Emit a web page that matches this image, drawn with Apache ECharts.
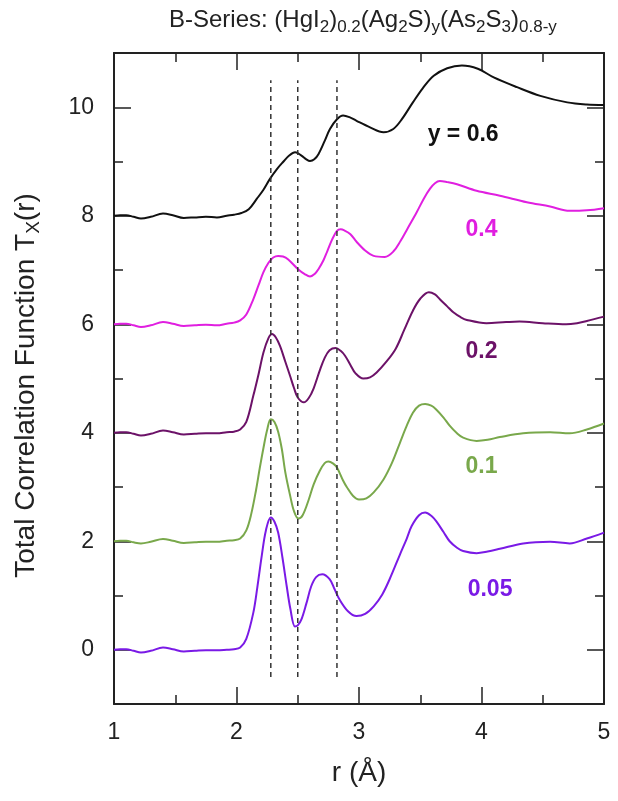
<!DOCTYPE html>
<html>
<head>
<meta charset="utf-8">
<script src="https://cdn.jsdelivr.net/npm/echarts@6/dist/echarts.min.js"></script>
<style>
html,body{margin:0;padding:0;background:#fff;}
#chart{width:618px;height:801px;}
</style>
</head>
<body>
<div id="chart"></div>
<script>
// ---- data (r in Å, plotted value incl. vertical offset) ----
const seriesNames = ['y = 0.6', '0.4', '0.2', '0.1', '0.05'];
const seriesColors = ['#111111', '#e01fe0', '#6c1268', '#79a84b', '#7a1ae6'];

const y060 = [[1.00,8.00],[1.05,8.01],[1.10,8.01],[1.16,7.98],[1.22,7.95],[1.30,7.98],[1.40,8.04],[1.48,8.01],[1.57,7.96],[1.66,7.97],[1.75,7.98],[1.84,7.97],[1.92,8.00],[1.98,8.02],[2.04,8.05],[2.10,8.12],[2.165,8.31],[2.22,8.48],[2.273,8.68],[2.33,8.86],[2.38,8.99],[2.43,9.11],[2.478,9.17],[2.53,9.11],[2.57,9.04],[2.60,9.01],[2.635,9.04],[2.67,9.14],[2.72,9.38],[2.763,9.60],[2.82,9.78],[2.87,9.85],[2.93,9.81],[2.98,9.75],[3.09,9.63],[3.20,9.54],[3.28,9.60],[3.35,9.78],[3.44,10.09],[3.52,10.35],[3.61,10.58],[3.72,10.72],[3.84,10.77],[3.97,10.71],[4.10,10.55],[4.29,10.37],[4.48,10.21],[4.70,10.09],[4.86,10.05],[5.00,10.04]];

const y040 = [[1.00,6.00],[1.05,6.01],[1.10,6.01],[1.16,5.98],[1.22,5.95],[1.30,5.98],[1.40,6.04],[1.48,6.01],[1.57,5.97],[1.66,5.98],[1.75,5.99],[1.84,5.98],[1.92,6.01],[1.98,6.03],[2.03,6.07],[2.08,6.18],[2.137,6.46],[2.18,6.72],[2.22,6.96],[2.26,7.13],[2.30,7.23],[2.34,7.26],[2.38,7.25],[2.42,7.20],[2.50,7.02],[2.56,6.92],[2.60,6.88],[2.64,6.93],[2.67,7.02],[2.71,7.18],[2.74,7.34],[2.78,7.56],[2.82,7.72],[2.85,7.75],[2.88,7.73],[2.93,7.66],[2.98,7.52],[3.05,7.36],[3.12,7.26],[3.21,7.24],[3.28,7.34],[3.34,7.54],[3.40,7.78],[3.47,8.06],[3.53,8.32],[3.58,8.50],[3.62,8.60],[3.66,8.64],[3.72,8.62],[3.80,8.58],[3.96,8.46],[4.15,8.37],[4.37,8.25],[4.56,8.17],[4.72,8.09],[4.86,8.10],[5.00,8.14]];

const y020 = [[1.00,4.00],[1.05,4.01],[1.10,4.01],[1.16,3.98],[1.22,3.95],[1.30,3.98],[1.40,4.04],[1.48,4.01],[1.57,3.97],[1.66,3.98],[1.75,3.99],[1.84,3.99],[1.92,4.01],[1.98,4.02],[2.03,4.06],[2.08,4.20],[2.137,4.68],[2.18,5.08],[2.22,5.48],[2.26,5.74],[2.29,5.82],[2.32,5.76],[2.355,5.60],[2.40,5.30],[2.437,5.05],[2.47,4.82],[2.50,4.65],[2.55,4.56],[2.59,4.64],[2.63,4.82],[2.68,5.15],[2.72,5.38],[2.76,5.52],[2.81,5.56],[2.85,5.51],[2.886,5.42],[2.93,5.25],[2.97,5.10],[3.035,5.00],[3.09,5.02],[3.144,5.11],[3.22,5.30],[3.30,5.55],[3.37,5.90],[3.44,6.25],[3.50,6.47],[3.57,6.59],[3.62,6.55],[3.66,6.46],[3.72,6.33],[3.77,6.22],[3.83,6.13],[3.88,6.08],[4.04,6.02],[4.20,6.04],[4.31,6.05],[4.50,6.02],[4.69,6.00],[4.78,6.02],[4.86,6.06],[5.00,6.14]];

const y010 = [[1.00,2.00],[1.05,2.01],[1.10,2.01],[1.16,1.98],[1.22,1.96],[1.30,1.99],[1.40,2.04],[1.48,2.01],[1.57,1.97],[1.66,1.98],[1.75,1.99],[1.84,1.99],[1.92,2.01],[1.98,2.02],[2.03,2.05],[2.08,2.20],[2.12,2.50],[2.16,2.95],[2.19,3.35],[2.22,3.72],[2.25,4.05],[2.28,4.25],[2.31,4.20],[2.34,4.02],[2.37,3.70],[2.40,3.25],[2.437,2.85],[2.47,2.55],[2.505,2.42],[2.54,2.48],[2.59,2.77],[2.63,3.05],[2.68,3.30],[2.72,3.44],[2.75,3.47],[2.79,3.43],[2.82,3.36],[2.87,3.12],[2.90,3.00],[2.95,2.84],[3.00,2.77],[3.06,2.79],[3.12,2.90],[3.20,3.14],[3.27,3.45],[3.335,3.82],[3.39,4.13],[3.44,4.37],[3.49,4.50],[3.54,4.53],[3.59,4.50],[3.63,4.43],[3.69,4.28],[3.74,4.13],[3.80,3.99],[3.85,3.91],[3.96,3.85],[4.05,3.87],[4.15,3.92],[4.34,3.99],[4.56,4.01],[4.72,3.99],[4.86,4.06],[5.00,4.17]];

const y005 = [[1.00,0.00],[1.05,0.01],[1.10,0.01],[1.16,-0.02],[1.22,-0.05],[1.30,-0.02],[1.40,0.04],[1.48,0.01],[1.57,-0.03],[1.66,-0.02],[1.75,-0.01],[1.84,-0.01],[1.92,0.00],[1.98,0.01],[2.03,0.04],[2.08,0.20],[2.137,0.68],[2.17,1.15],[2.206,1.73],[2.24,2.20],[2.28,2.44],[2.31,2.36],[2.34,2.16],[2.375,1.70],[2.41,1.17],[2.44,0.75],[2.477,0.43],[2.50,0.45],[2.53,0.56],[2.57,0.85],[2.61,1.17],[2.65,1.34],[2.70,1.39],[2.76,1.30],[2.80,1.12],[2.84,0.93],[2.91,0.71],[2.98,0.62],[3.05,0.66],[3.12,0.80],[3.19,1.02],[3.25,1.30],[3.335,1.76],[3.39,2.05],[3.43,2.28],[3.49,2.48],[3.54,2.53],[3.59,2.47],[3.63,2.37],[3.69,2.17],[3.74,2.00],[3.80,1.88],[3.85,1.82],[3.96,1.78],[4.05,1.81],[4.15,1.86],[4.34,1.96],[4.56,1.99],[4.72,1.96],[4.86,2.05],[5.00,2.16]];

const curves = [y060, y040, y020, y010, y005];
// label anchor points (r, value)
const labelPoints = [[3.85,9.49],[4.00,7.75],[4.00,5.49],[4.00,3.37],[4.07,1.11]];
// vertical dashed reference lines (r) and their extent
const dashedR = [2.28, 2.50, 2.82];
const dashedSpan = [-0.5, 10.5];

const xTickValues = [1, 2, 3, 4, 5];
const yMajorTicks = [0, 2, 4, 6, 8, 10];
const yMinorTicks = [1, 3, 5, 7, 9];

// ---- chart ----
const FONT = 'Liberation Sans, Arial, sans-serif';
const AX = '#222';
const chart = echarts.init(document.getElementById('chart'), null, {renderer: 'canvas'});

function xAx(pos, showLabel) {
  return {
    type: 'value', min: 1, max: 5, interval: 1, position: pos,
    axisLine: {show: true, onZero: false, lineStyle: {color: AX, width: 2}},
    axisTick: {show: true, inside: true, length: 17, lineStyle: {color: AX, width: 1.5}},
    minorTick: {show: true, splitNumber: 2, length: 9, lineStyle: {color: AX, width: 1.5}},
    splitLine: {show: false}, minorSplitLine: {show: false},
    axisLabel: {show: showLabel, fontSize: 23, color: AX, margin: 17, fontFamily: FONT},
    name: showLabel ? 'r (Å)' : '', nameLocation: 'middle', nameGap: 54,
    nameTextStyle: {fontSize: 28, color: AX, fontFamily: FONT, lineHeight: 30}
  };
}
function yAx(pos, ticks, len, showLine, showLabel, name) {
  const o = {
    type: 'value', min: -1, max: 11, interval: 1, position: pos,
    axisLine: {show: showLine, onZero: false, lineStyle: {color: AX, width: 2}},
    axisTick: {show: true, inside: true, length: len, customValues: ticks, lineStyle: {color: AX, width: 1.5}},
    splitLine: {show: false},
    axisLabel: {show: showLabel, customValues: yMajorTicks, fontSize: 23, color: AX, margin: 20, fontFamily: FONT}
  };
  if (name) {
    o.name = '{m|Total Correlation Function T}{s|X}{m|(r)}';
    o.nameLocation = 'middle';
    o.nameGap = 71;
    o.nameTextStyle = {
      padding: [0, 14, 0, 0],
      rich: {
        m: {fontSize: 28, color: AX, fontFamily: FONT, lineHeight: 34},
        s: {fontSize: 19, color: AX, fontFamily: FONT, lineHeight: 12, verticalAlign: 'bottom'}
      }
    };
  }
  return o;
}

const series = curves.map((d, i) => ({
  name: seriesNames[i], type: 'line', data: d, xAxisIndex: 0, yAxisIndex: 0,
  showSymbol: false, symbol: 'none', smooth: 0.35,
  lineStyle: {color: seriesColors[i], width: 2}, z: 3
}));
dashedR.forEach((r, i) => series.push({
  name: 'ref' + i, type: 'line', data: [[r, dashedSpan[0]], [r, dashedSpan[1]]],
  showSymbol: false, symbol: 'none', silent: true,
  lineStyle: {color: '#333', width: 1.5, type: [5, 4]}, z: 4
}));
series.push({
  name: 'labels', type: 'scatter', symbolSize: 0, silent: true,
  itemStyle: {color: 'rgba(0,0,0,0)'},
  data: labelPoints.map((p, i) => ({
    value: p, name: seriesNames[i],
    label: {color: seriesColors[i]}
  })),
  label: {show: true, position: [0, 0], align: 'center', verticalAlign: 'middle',
          formatter: p => p.name, textBorderWidth: 0, opacity: 1,
          fontSize: 23, fontWeight: 'bold', fontFamily: FONT},
  z: 5
});

chart.setOption({
  animation: false,
  backgroundColor: '#fff',
  title: {
    text: '{m|B-Series: (HgI}{s|2}{m|)}{s|0.2}{m|(Ag}{s|2}{m|S)}{s|y}{m|(As}{s|2}{m|S}{s|3}{m|)}{s|0.8-y}',
    left: 169, top: 4, padding: 0,
    textStyle: {
      fontWeight: 'normal',
      rich: {
        m: {fontSize: 24, color: AX, fontFamily: FONT, fontWeight: 'normal', lineHeight: 32},
        s: {fontSize: 17, color: AX, fontFamily: FONT, fontWeight: 'normal', lineHeight: 12, verticalAlign: 'bottom'}
      }
    }
  },
  grid: {left: 114, right: 14, top: 53, bottom: 97, containLabel: false},
  xAxis: [xAx('bottom', true), xAx('top', false)],
  yAxis: [
    yAx('left', yMajorTicks, 17, true, true, true),
    yAx('left', yMinorTicks, 9, false, false, false),
    yAx('right', yMajorTicks, 17, true, false, false),
    yAx('right', yMinorTicks, 9, false, false, false)
  ],
  series: series
});
</script>
</body>
</html>
